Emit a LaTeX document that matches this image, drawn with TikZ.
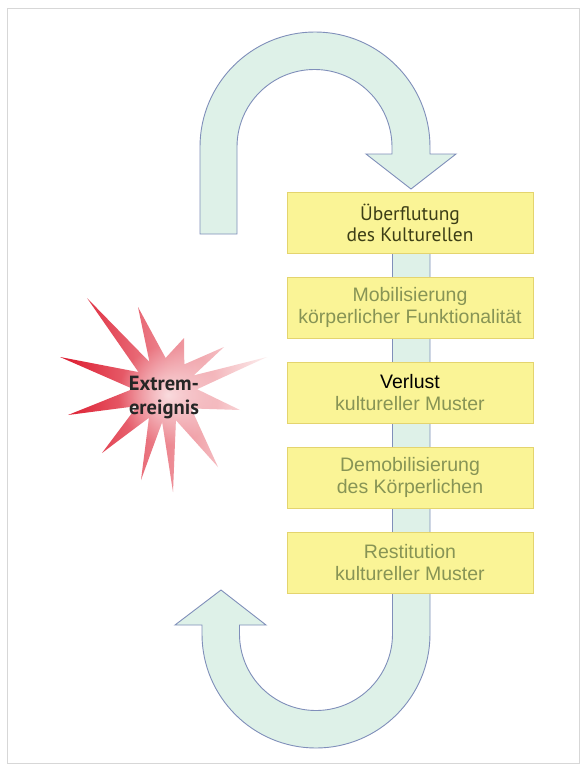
\documentclass[tikz,border=0pt]{standalone}
\usepackage{fontspec}
\setmainfont{Liberation Sans}
\newfontfamily\ptsans{PT Sans}
\usetikzlibrary{positioning, fadings}

\definecolor{boxfill}{RGB}{250,244,150}
\definecolor{boxline}{RGB}{228,212,110}
\definecolor{olivetxt}{RGB}{135,148,85}
\definecolor{darkolive}{RGB}{60,62,22}
\definecolor{loopfill}{RGB}{222,241,232}
\definecolor{loopline}{RGB}{128,143,186}
\definecolor{starred}{RGB}{220,24,44}
\definecolor{starpale}{RGB}{252,238,238}
\definecolor{framegray}{RGB}{215,215,215}

\tikzfading[name=glowfade, inner color=transparent!0, outer color=transparent!100]

\begin{document}
\begin{tikzpicture}[x=1pt, y=-1pt,
  stage/.style={draw=boxline, fill=boxfill, line width=0.8pt, minimum width=246pt,
                minimum height=61pt, inner sep=2pt, outer sep=0pt, align=center,
                font=\fontsize{19.5}{22}\selectfont, text=olivetxt},
  bigarrow/.style={fill=loopfill, draw=loopline, line width=0.9pt, line join=miter},
  startxt/.style={font=\ptsans\bfseries\fontsize{20.5}{24}\selectfont, text=black!85,
                  align=center, inner sep=0pt},
]

\useasboundingbox[fill=white] (0,0) rectangle (582,766);

% outer frame
\draw[framegray, line width=1pt] (7,8) rectangle (579,763);

% upper loop arrow, pointing down onto the first stage
\draw[bigarrow] (200,234) -- (200,147)
  arc[start angle=180, end angle=0, radius=115pt] -- (430,154)
  -- (456,154) -- (411,189) -- (366,154) -- (392,154) -- (392,147)
  arc[start angle=0, end angle=180, radius=77.5pt] -- (237,234) -- cycle;

% lower loop arrow, running behind the stages and back up
\draw[bigarrow] (430,200) -- (430,634)
  arc[start angle=0, end angle=-180, radius=114pt] -- (202,625)
  -- (175,625) -- (221,590) -- (266,625) -- (239.5,625) -- (239.5,634)
  arc[start angle=180, end angle=360, radius=76.5pt] -- (392.5,200) -- cycle;

% stages
\node[stage, font=\ptsans\fontsize{19.5}{21}\selectfont, text=darkolive] (ueber) at (410,222.5)
  {Überflutung\\des Kulturellen};
\node[stage, below=24pt of ueber] (mobil) {Mobilisierung\\körperlicher Funktionalität};
\node[stage, below=24pt of mobil] (verlust) {{\color{black}Verlust}\\kultureller Muster};
\node[stage, below=24pt of verlust] (demobil) {Demobilisierung\\des Körperlichen};
\node[stage, below=24pt of demobil] (restit) {Restitution\\kultureller Muster};

% star burst
\def\starpath{(267,357) -- (193.5,375.5) -- (224,347) -- (184.3,364.4) -- (184,338)
  -- (165.6,358) -- (138,307) -- (149.5,362) -- (87,298) -- (138.5,372.1)
  -- (60,357) -- (133,388.9) -- (68,415) -- (137.3,406) -- (102,453)
  -- (149,417.7) -- (141,480) -- (162.2,421.9) -- (173,492) -- (175.9,420.1)
  -- (218,467) -- (191.2,408.4) -- (240,410) -- (197,389.2) -- cycle}
\shade[left color=starred, right color=starpale] \starpath;
\begin{scope}
  \clip \starpath;
  \fill[white, opacity=0.7, path fading=glowfade] (168,395) circle (50pt);
\end{scope}
\node[startxt] (extrem) at (164,397) {Extrem-\\ereignis};

\end{tikzpicture}
\end{document}
